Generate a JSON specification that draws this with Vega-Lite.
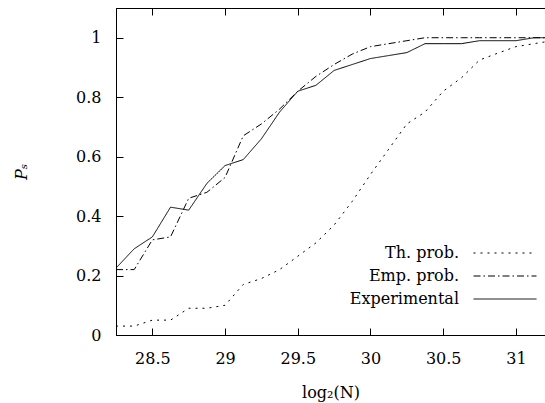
{
  "$schema": "https://vega.github.io/schema/vega-lite/v6.json",
  "width": 429,
  "height": 327,
  "autosize": {"type": "none"},
  "padding": {"left": 116, "top": 8, "right": 0, "bottom": 68},
  "background": "white",
  "config": {
    "view": {"stroke": "black", "strokeWidth": 1},
    "axis": {
      "grid": false,
      "domainColor": "black",
      "tickColor": "black",
      "labelColor": "black",
      "titleColor": "black",
      "labelFont": "DejaVu Serif",
      "titleFont": "DejaVu Serif",
      "labelFontSize": 16,
      "titleFontSize": 16,
      "titleFontWeight": "normal",
      "tickSize": -7,
      "domainWidth": 1,
      "tickWidth": 1
    }
  },
  "data": {
    "values": [
      {"x": 28.25, "p": 0.225, "series": "Experimental"},
      {"x": 28.375, "p": 0.29, "series": "Experimental"},
      {"x": 28.5, "p": 0.33, "series": "Experimental"},
      {"x": 28.625, "p": 0.43, "series": "Experimental"},
      {"x": 28.75, "p": 0.42, "series": "Experimental"},
      {"x": 28.875, "p": 0.51, "series": "Experimental"},
      {"x": 29.0, "p": 0.57, "series": "Experimental"},
      {"x": 29.125, "p": 0.59, "series": "Experimental"},
      {"x": 29.25, "p": 0.66, "series": "Experimental"},
      {"x": 29.375, "p": 0.75, "series": "Experimental"},
      {"x": 29.5, "p": 0.82, "series": "Experimental"},
      {"x": 29.625, "p": 0.84, "series": "Experimental"},
      {"x": 29.75, "p": 0.89, "series": "Experimental"},
      {"x": 29.875, "p": 0.91, "series": "Experimental"},
      {"x": 30.0, "p": 0.93, "series": "Experimental"},
      {"x": 30.125, "p": 0.94, "series": "Experimental"},
      {"x": 30.25, "p": 0.95, "series": "Experimental"},
      {"x": 30.375, "p": 0.98, "series": "Experimental"},
      {"x": 30.5, "p": 0.98, "series": "Experimental"},
      {"x": 30.625, "p": 0.98, "series": "Experimental"},
      {"x": 30.75, "p": 0.99, "series": "Experimental"},
      {"x": 30.875, "p": 0.99, "series": "Experimental"},
      {"x": 31.0, "p": 0.99, "series": "Experimental"},
      {"x": 31.125, "p": 1.0, "series": "Experimental"},
      {"x": 31.25, "p": 1.0, "series": "Experimental"},
      {"x": 28.25, "p": 0.22, "series": "Emp. prob."},
      {"x": 28.375, "p": 0.22, "series": "Emp. prob."},
      {"x": 28.5, "p": 0.32, "series": "Emp. prob."},
      {"x": 28.625, "p": 0.33, "series": "Emp. prob."},
      {"x": 28.75, "p": 0.46, "series": "Emp. prob."},
      {"x": 28.875, "p": 0.48, "series": "Emp. prob."},
      {"x": 29.0, "p": 0.53, "series": "Emp. prob."},
      {"x": 29.125, "p": 0.67, "series": "Emp. prob."},
      {"x": 29.25, "p": 0.71, "series": "Emp. prob."},
      {"x": 29.375, "p": 0.76, "series": "Emp. prob."},
      {"x": 29.5, "p": 0.82, "series": "Emp. prob."},
      {"x": 29.625, "p": 0.87, "series": "Emp. prob."},
      {"x": 29.75, "p": 0.91, "series": "Emp. prob."},
      {"x": 29.875, "p": 0.945, "series": "Emp. prob."},
      {"x": 30.0, "p": 0.97, "series": "Emp. prob."},
      {"x": 30.125, "p": 0.98, "series": "Emp. prob."},
      {"x": 30.25, "p": 0.99, "series": "Emp. prob."},
      {"x": 30.375, "p": 1.0, "series": "Emp. prob."},
      {"x": 30.5, "p": 1.0, "series": "Emp. prob."},
      {"x": 30.625, "p": 1.0, "series": "Emp. prob."},
      {"x": 30.75, "p": 1.0, "series": "Emp. prob."},
      {"x": 30.875, "p": 1.0, "series": "Emp. prob."},
      {"x": 31.0, "p": 1.0, "series": "Emp. prob."},
      {"x": 31.125, "p": 1.0, "series": "Emp. prob."},
      {"x": 31.25, "p": 1.0, "series": "Emp. prob."},
      {"x": 28.25, "p": 0.03, "series": "Th. prob."},
      {"x": 28.375, "p": 0.03, "series": "Th. prob."},
      {"x": 28.5, "p": 0.05, "series": "Th. prob."},
      {"x": 28.625, "p": 0.05, "series": "Th. prob."},
      {"x": 28.75, "p": 0.09, "series": "Th. prob."},
      {"x": 28.875, "p": 0.09, "series": "Th. prob."},
      {"x": 29.0, "p": 0.1, "series": "Th. prob."},
      {"x": 29.125, "p": 0.17, "series": "Th. prob."},
      {"x": 29.25, "p": 0.19, "series": "Th. prob."},
      {"x": 29.375, "p": 0.22, "series": "Th. prob."},
      {"x": 29.5, "p": 0.265, "series": "Th. prob."},
      {"x": 29.625, "p": 0.31, "series": "Th. prob."},
      {"x": 29.75, "p": 0.37, "series": "Th. prob."},
      {"x": 29.875, "p": 0.45, "series": "Th. prob."},
      {"x": 30.0, "p": 0.54, "series": "Th. prob."},
      {"x": 30.125, "p": 0.625, "series": "Th. prob."},
      {"x": 30.25, "p": 0.71, "series": "Th. prob."},
      {"x": 30.375, "p": 0.75, "series": "Th. prob."},
      {"x": 30.5, "p": 0.82, "series": "Th. prob."},
      {"x": 30.625, "p": 0.865, "series": "Th. prob."},
      {"x": 30.75, "p": 0.925, "series": "Th. prob."},
      {"x": 30.875, "p": 0.948, "series": "Th. prob."},
      {"x": 31.0, "p": 0.97, "series": "Th. prob."},
      {"x": 31.125, "p": 0.98, "series": "Th. prob."},
      {"x": 31.25, "p": 0.99, "series": "Th. prob."}
    ]
  },
  "layer": [
    {
      "mark": {"type": "line", "color": "black", "strokeWidth": 1, "clip": true},
      "encoding": {
        "x": {
          "field": "x",
          "type": "quantitative",
          "scale": {"domain": [28.25, 31.2], "nice": false, "zero": false},
          "axis": {
            "orient": "bottom",
            "values": [28.5, 29, 29.5, 30, 30.5, 31],
            "format": "~g",
            "title": "log₂(N)",
            "labelPadding": 22,
            "titlePadding": 18
          }
        },
        "y": {
          "field": "p",
          "type": "quantitative",
          "scale": {"domain": [0, 1.1], "nice": false},
          "axis": {
            "values": [0, 0.2, 0.4, 0.6, 0.8, 1],
            "format": "~g",
            "title": "Pₛ",
            "titleFontStyle": "italic",
            "labelPadding": 22,
            "titlePadding": 46
          }
        },
        "strokeDash": {
          "field": "series",
          "type": "nominal",
          "scale": {
            "domain": ["Th. prob.", "Emp. prob.", "Experimental"],
            "range": [[2, 5], [7, 3, 1.5, 3], [1, 0]]
          },
          "legend": {
            "title": null,
            "orient": "none",
            "legendX": 378,
            "legendY": 234,
            "symbolType": "M-3,0H3",
            "symbolSize": 441,
            "symbolStrokeWidth": 1,
            "symbolStrokeColor": "black",
            "symbolFillColor": "transparent",
            "labelAlign": "right",
            "labelOffset": -57,
            "labelFont": "DejaVu Serif",
            "labelFontSize": 16,
            "labelColor": "black",
            "rowPadding": 4
          }
        }
      }
    },
    {
      "mark": {"type": "point", "opacity": 0},
      "encoding": {
        "x": {
          "field": "x",
          "type": "quantitative",
          "axis": {
            "orient": "top",
            "values": [28.5, 29, 29.5, 30, 30.5, 31],
            "labels": false,
            "title": null
          }
        }
      }
    }
  ],
  "resolve": {"axis": {"x": "independent"}}
}
